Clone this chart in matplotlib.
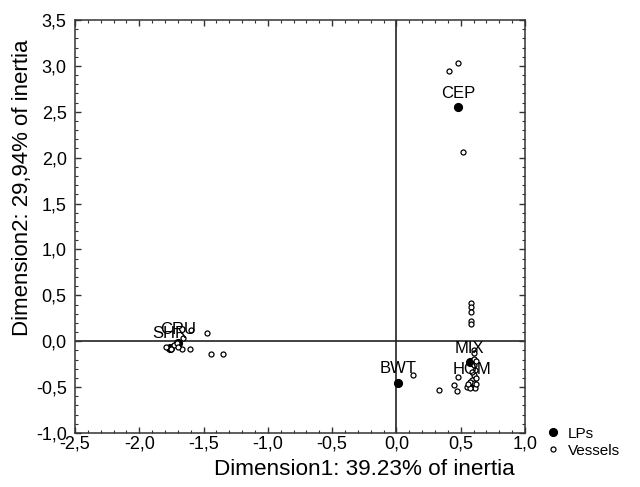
#!/usr/bin/python3
'''
Correspondence analysis map - LPs and vessels (Dimension1 x Dimension2)
'''

#------------------
# Import
#------------------

import matplotlib
matplotlib.use('Agg')
import matplotlib.pyplot as plt
from matplotlib.ticker import MultipleLocator, FuncFormatter

#------------------
# Data
#------------------

lp_names = ['CEP', 'BWT', 'MIX', 'HOM', 'SHR', 'CRU']
lp_x = [0.48, 0.01, 0.57, 0.585, -1.76, -1.70]
lp_y = [2.55, -0.45, -0.23, -0.46, -0.07, -0.02]

vessel_x = [0.48, 0.41, 0.52,
            0.58, 0.58, 0.58, 0.58, 0.58,
            0.60, 0.60, 0.60, 0.61, 0.60, 0.585, 0.60, 0.55, 0.61, 0.57,
            0.48, 0.45, 0.47, 0.33, 0.13,
            0.57, 0.62, 0.56, 0.62, 0.59, 0.62, 0.60,
            -1.475, -1.44, -1.35, -1.605, -1.67, -1.79, -1.73, -1.71,
            -1.75, -1.66, -1.60, -1.70]
vessel_y = [3.03, 2.94, 2.06,
            0.42, 0.37, 0.32, 0.22, 0.19,
            -0.10, -0.19, -0.26, -0.31, -0.37, -0.42, -0.46, -0.50, -0.51, -0.51,
            -0.39, -0.48, -0.54, -0.53, -0.37,
            -0.44, -0.40, -0.47, -0.47, -0.34, -0.22, -0.13,
            0.09, -0.14, -0.14, -0.09, -0.09, -0.06, -0.04, -0.02,
            -0.08, 0.04, 0.12, -0.06]

x_label = 'Dimension1: 39.23% of inertia'
y_label = 'Dimension2: 29,94% of inertia'

#------------------
# Plot
#------------------

plt.rcParams['font.family'] = ['Liberation Sans', 'DejaVu Sans']

fig = plt.figure(figsize=(6.4, 4.87), dpi=100)
ax = fig.add_axes([75 / 640, 54 / 487, 450 / 640, 413 / 487])

# Reference lines through origin
ax.axhline(0, color='#222222', lw=1.2, zorder=1)
ax.axvline(0, color='#222222', lw=1.2, zorder=1)

# LPs first, vessels drawn over them (as in the original)
ax.plot(lp_x, lp_y, 'o', ls='none', ms=5.6, color='black', label='LPs', zorder=3)
ax.plot(vessel_x, vessel_y, 'o', ls='none', ms=3.6, mfc='white', mec='black',
        mew=0.9, label='Vessels', zorder=4)

for name, x, y in zip(lp_names, lp_x, lp_y):
    ax.annotate(name, (x, y), xytext=(0, 10), textcoords='offset points',
                ha='center', va='center', fontsize=12, zorder=5)

ax.set_xlim(-2.5, 1.0)
ax.set_ylim(-1.0, 3.5)

ax.xaxis.set_major_locator(MultipleLocator(0.5))
ax.yaxis.set_major_locator(MultipleLocator(0.5))
ax.xaxis.set_minor_locator(MultipleLocator(0.1))
ax.yaxis.set_minor_locator(MultipleLocator(0.1))
comma = FuncFormatter(lambda v, p: f'{v:.1f}'.replace('.', ','))
ax.xaxis.set_major_formatter(comma)
ax.yaxis.set_major_formatter(comma)

ax.tick_params(which='both', direction='in', top=True, right=True,
               labelsize=13, color='#333333')
ax.tick_params(which='major', length=4, width=1)
ax.tick_params(axis='x', which='major', pad=1.5)
ax.tick_params(axis='y', which='major', pad=6)
ax.tick_params(which='minor', length=2.5, width=0.8)
for s in ax.spines.values():
    s.set_color('#333333')
    s.set_linewidth(1.1)

ax.set_xlabel(x_label, fontsize=16.2)
ax.xaxis.set_label_coords(0.642, -0.062)
ax.set_ylabel(y_label, fontsize=16)
ax.yaxis.set_label_coords(-0.093, 0.593)

handles, labels = ax.get_legend_handles_labels()
fig.legend(handles, labels, loc='upper left',
           bbox_to_anchor=(536 / 640, 1 - 416 / 487), frameon=False,
           fontsize=11, handlelength=0.8, handletextpad=0.6,
           labelspacing=0.2, borderpad=0.2)

fig.savefig('out.png', dpi=100)
